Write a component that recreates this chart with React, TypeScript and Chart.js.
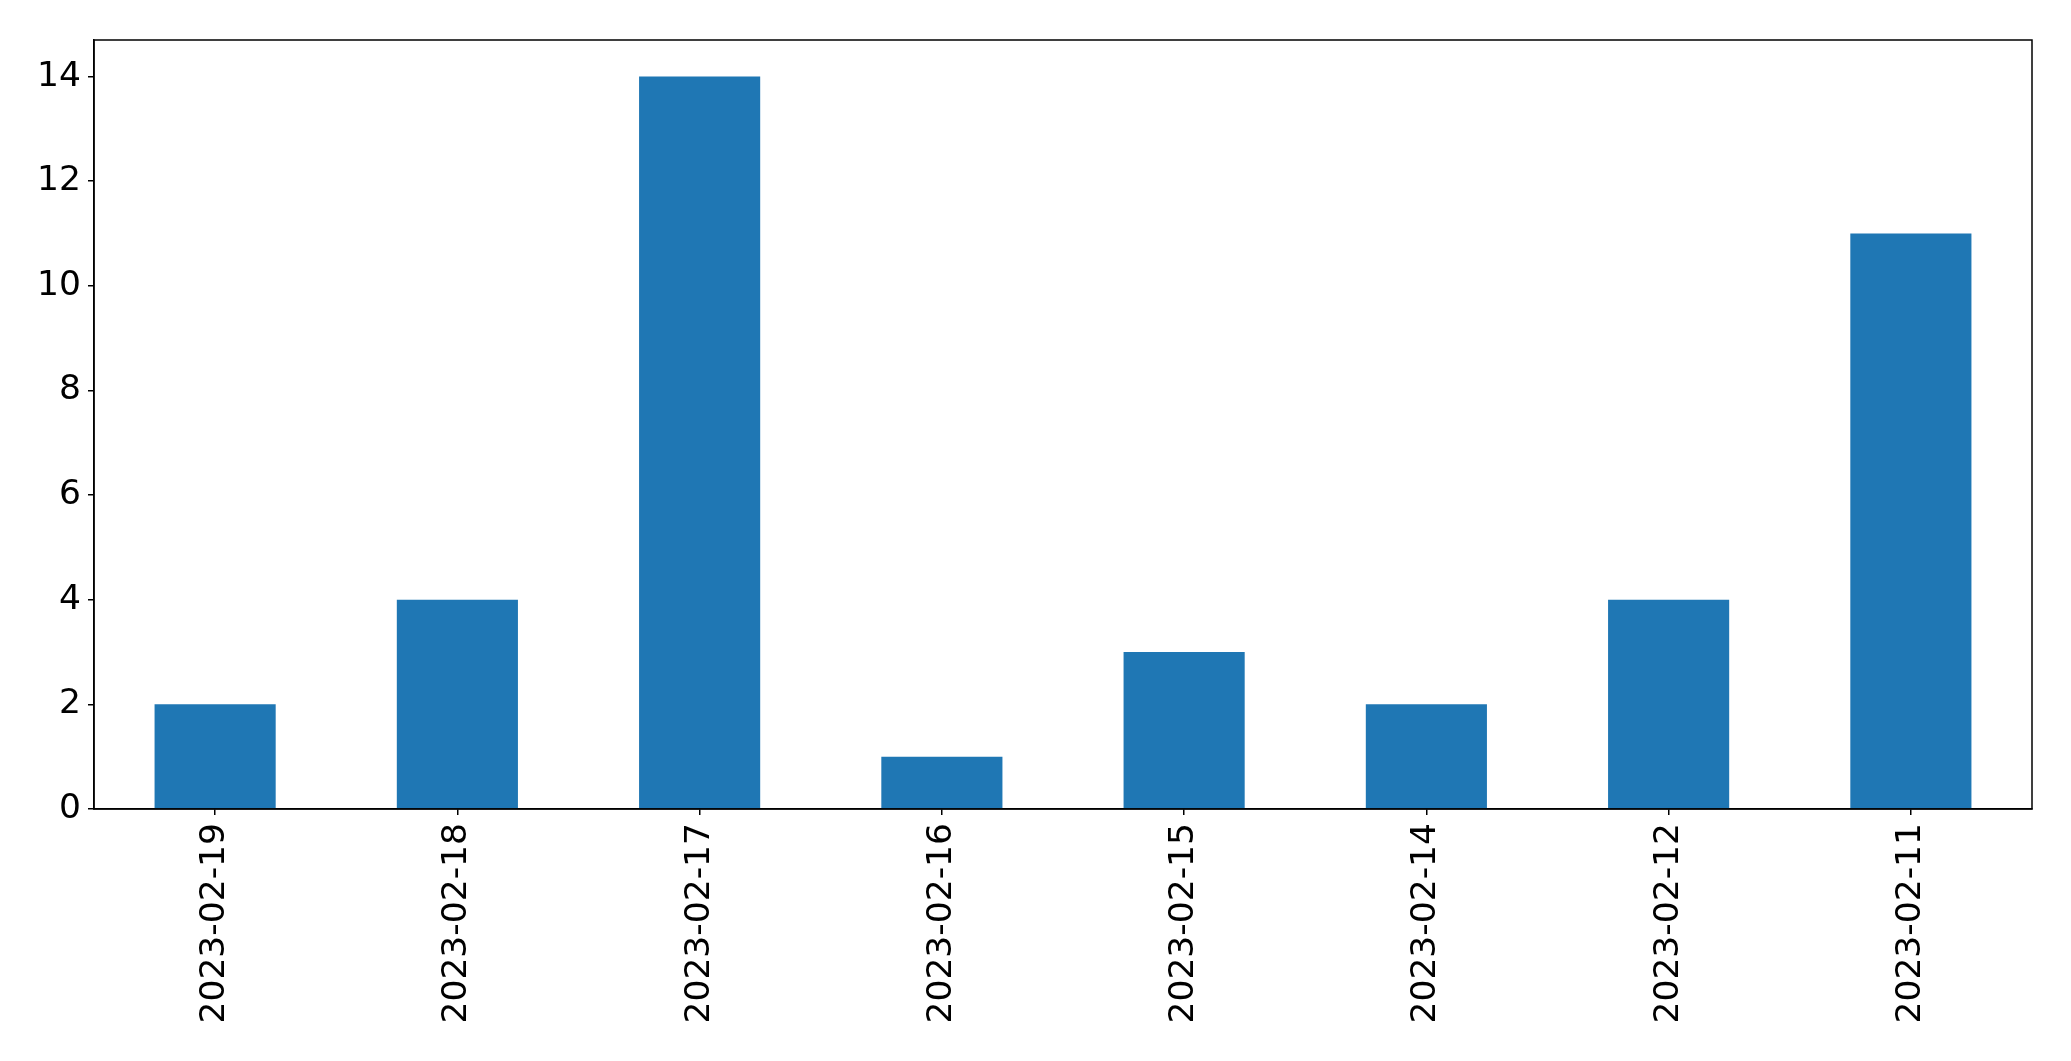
import React, { useEffect, useRef } from "react";
import { Chart, registerables } from "chart.js";

Chart.register(...registerables);

const categories = [
  "2023-02-19",
  "2023-02-18",
  "2023-02-17",
  "2023-02-16",
  "2023-02-15",
  "2023-02-14",
  "2023-02-12",
  "2023-02-11",
];
const counts = [2, 4, 14, 1, 3, 2, 4, 11];
const yTicks = [0, 2, 4, 6, 8, 10, 12, 14];

const W = 2071;
const H = 1061;
const PLOT_LEFT = 94;
const PLOT_RIGHT = 2032;
const PLOT_TOP = 40;
const PLOT_BOTTOM = 809;
const FONT = "'DejaVu Sans', sans-serif";
const FONT_SIZE = 34.5;

const frame = {
  id: "frame",
  afterDraw(chart: any) {
    const { ctx, chartArea } = chart;
    ctx.save();
    ctx.strokeStyle = "#000";
    ctx.lineWidth = 1.5;
    ctx.strokeRect(chartArea.left, chartArea.top, chartArea.right - chartArea.left, chartArea.bottom - chartArea.top);
    ctx.restore();
  },
};

export default function App() {
  const ref = useRef<HTMLCanvasElement | null>(null);
  useEffect(() => {
    if (!ref.current) return;
    const chart = new Chart(ref.current, {
      type: "bar",
      data: {
        labels: categories,
        datasets: [
          {
            data: counts,
            backgroundColor: "#1f77b4",
            categoryPercentage: 0.5,
            barPercentage: 1,
          },
        ],
      },
      plugins: [frame],
      options: {
        animation: false,
        responsive: false,
        devicePixelRatio: 1,
        layout: { padding: { left: 0, right: W - PLOT_RIGHT, top: PLOT_TOP, bottom: 0 } },
        plugins: { legend: { display: false }, tooltip: { enabled: false } },
        scales: {
          x: {
            offset: true,
            grid: { display: true, drawOnChartArea: false, drawTicks: true, tickLength: 6, color: "#000", offset: false, lineWidth: 1.5 },
            border: { display: true, color: "#000", width: 1.5 },
            ticks: { color: "#000", font: { family: FONT, size: FONT_SIZE }, minRotation: 90, maxRotation: 90, padding: 8, autoSkip: false },
            afterFit(scale: any) {
              scale.height = H - PLOT_BOTTOM;
            },
          },
          y: {
            min: 0,
            max: 14.7,
            grid: { display: true, drawOnChartArea: false, drawTicks: true, tickLength: 6, color: "#000", lineWidth: 1.5 },
            border: { display: true, color: "#000", width: 1.5 },
            ticks: { color: "#000", font: { family: FONT, size: FONT_SIZE }, stepSize: 2, padding: 7 },
            afterBuildTicks(scale: any) {
              scale.ticks = yTicks.map((v) => ({ value: v }));
            },
            afterFit(scale: any) {
              scale.width = PLOT_LEFT;
            },
          },
        },
      },
    });
    return () => chart.destroy();
  }, []);
  return (
    <div style={{ position: "fixed", left: 0, top: 0, width: W, height: H, background: "#fff" }}>
      <canvas ref={ref} width={W} height={H} style={{ width: W, height: H, display: "block" }} />
    </div>
  );
}
